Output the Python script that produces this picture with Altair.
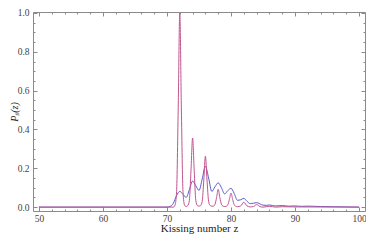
import altair as alt
import pandas as pd

# ---- data ----
blue_z = [50, 70, 70.5, 71, 71.5, 72, 72.5, 73, 73.5, 74, 74.5, 75, 75.5, 76, 76.5, 77,
          77.5, 78, 78.5, 79, 79.5, 80, 80.5, 81, 81.5, 82, 82.5, 83, 83.5, 84, 84.5,
          85, 85.5, 86, 86.5, 87, 88, 89, 90, 91, 92, 94, 96, 98, 100]
blue_p = [0, 0, 0.004, 0.02, 0.06, 0.081, 0.066, 0.05, 0.09, 0.134, 0.11, 0.086, 0.145,
          0.211, 0.15, 0.081, 0.105, 0.125, 0.1, 0.068, 0.085, 0.097, 0.07, 0.035, 0.038,
          0.045, 0.03, 0.018, 0.02, 0.023, 0.017, 0.01, 0.009, 0.011, 0.008, 0.006,
          0.008, 0.005, 0.006, 0.004, 0.005, 0.003, 0.002, 0.001, 0]

pink_z = [50, 71, 71.25, 71.5, 71.75, 72, 72.25, 72.5, 72.75, 73,
          73.25, 73.5, 73.75, 74, 74.25, 74.5, 74.75, 75,
          75.25, 75.5, 75.75, 76, 76.25, 76.5, 76.75, 77,
          77.25, 77.5, 77.75, 78, 78.25, 78.5, 78.75, 79,
          79.25, 79.5, 79.75, 80, 80.25, 80.5, 80.75, 81,
          81.5, 82, 82.5, 83, 83.5, 84, 84.5, 85, 86, 87, 88, 90, 100]
pink_p = [0, 0, 0.01, 0.08, 0.5, 1.0, 0.5, 0.08, 0.01, 0.003,
          0.008, 0.035, 0.19, 0.356, 0.19, 0.035, 0.008, 0.005,
          0.008, 0.03, 0.14, 0.262, 0.14, 0.03, 0.008, 0.005,
          0.005, 0.015, 0.05, 0.092, 0.05, 0.015, 0.005, 0.003,
          0.004, 0.012, 0.04, 0.072, 0.04, 0.012, 0.004, 0.002,
          0.006, 0.025, 0.006, 0.001, 0.003, 0.013, 0.003, 0.0, 0.004, 0.0, 0.002, 0.001, 0]

x_ticks = list(range(50, 101, 2))
x_labels = [50, 60, 70, 80, 90, 100]
y_ticks = [round(i * 0.05, 2) for i in range(21)]
y_labels = [0.0, 0.2, 0.4, 0.6, 0.8, 1.0]

blue_df = pd.DataFrame({"z": blue_z, "p": blue_p})
pink_df = pd.DataFrame({"z": pink_z, "p": pink_p})

W, H = 332, 199
FONT = "Liberation Serif"
GRAY = "#8a8a8a"
LBL = "#444444"

xs = alt.Scale(domain=[49.08, 100.92], nice=False, zero=False)
ys = alt.Scale(domain=[-0.02, 1.005], nice=False, zero=False)

x_tick_size = {"condition": {"test": "datum.value % 10 === 0", "value": 4}, "value": 2}
y_tick_size = {"condition": {"test": "abs(datum.value*5 - round(datum.value*5)) < 0.001", "value": 4}, "value": 2}

# layer 1: blue line + label axes
blue = alt.Chart(blue_df).mark_line(color="#5a5ac8", strokeWidth=1, interpolate="monotone").encode(
    x=alt.X("z:Q", scale=xs, axis=alt.Axis(
        orient="bottom", values=x_labels, ticks=False, domain=False, grid=False,
        labelFont=FONT, labelFontSize=9.5, labelColor=LBL, labelPadding=2,
        title="Kissing number z", titleFont=FONT, titleFontSize=11, titleFontWeight="normal",
        titleColor="#222222", titleBaseline="middle", titleY=17.5)),
    y=alt.Y("p:Q", scale=ys, axis=alt.Axis(
        orient="left", values=y_labels, format=".1f", ticks=False, domain=False, grid=False,
        labelFont=FONT, labelFontSize=9.5, labelColor=LBL, labelPadding=4,
        title="Pₛ(z)", titleFont=FONT, titleFontSize=10, titleFontStyle="italic",
        titleFontWeight="normal", titleColor="#222222", titleAngle=270,
        titleAlign="center", titleBaseline="middle", titleX=-19, titleY=H / 2)),
)

# layer 2: pink line + inward ticks at bottom and left
pink = alt.Chart(pink_df).mark_line(color="#c2548f", strokeWidth=1, interpolate="monotone").encode(
    x=alt.X("z:Q", scale=xs, axis=alt.Axis(
        orient="top", offset=-H, values=x_ticks, labels=False, title=None, grid=False,
        domain=True, domainColor=GRAY, domainWidth=1, tickColor=GRAY, tickSize=x_tick_size)),
    y=alt.Y("p:Q", scale=ys, axis=alt.Axis(
        orient="right", offset=-W, values=y_ticks, labels=False, title=None, grid=False,
        domain=True, domainColor=GRAY, domainWidth=1, tickColor=GRAY, tickSize=y_tick_size)),
)

# layer 3: invisible line carrying inward ticks at top and right
frame = alt.Chart(pink_df).mark_line(opacity=0).encode(
    x=alt.X("z:Q", scale=xs, axis=alt.Axis(
        orient="bottom", offset=-H, values=x_ticks, labels=False, title=None, grid=False,
        domain=True, domainColor=GRAY, domainWidth=1, tickColor=GRAY, tickSize=x_tick_size)),
    y=alt.Y("p:Q", scale=ys, axis=alt.Axis(
        orient="left", offset=-W, values=y_ticks, labels=False, title=None, grid=False,
        domain=True, domainColor=GRAY, domainWidth=1, tickColor=GRAY, tickSize=y_tick_size)),
)

chart = alt.layer(blue, pink, frame).resolve_axis(x="independent", y="independent").properties(
    width=W, height=H,
    autosize=alt.AutoSizeParams(type="none"),
    padding={"left": 25, "top": 4, "right": 1, "bottom": 24},
).configure_view(stroke=None)

chart.save("out.html", embed_options={"renderer": "svg", "actions": False})
